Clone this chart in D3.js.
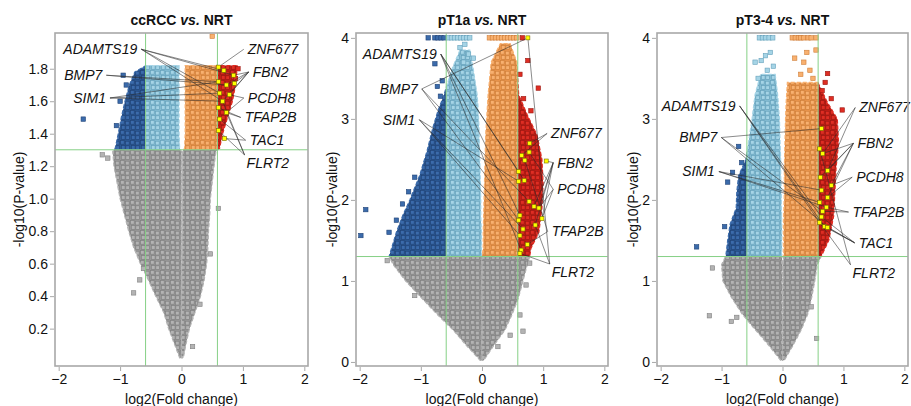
<!DOCTYPE html>
<html>
<head>
<meta charset="utf-8">
<script src="https://cdn.jsdelivr.net/npm/d3@7/dist/d3.min.js"></script>
<style>
  body { margin: 0; background: #fff; }
  svg { font-family: "Liberation Sans", Arial, sans-serif; }
</style>
</head>
<body>
<div id="chart"></div>
<script>
// Achsen
const xTicks = [-2, -1, 0, 1, 2];
const yTicksCcrcc = [0.2, 0.4, 0.6, 0.8, 1.0, 1.2, 1.4, 1.6, 1.8];
const yTicksStage = [0, 1, 2, 3, 4];
const titles = ["ccRCC", "pT1a", "pT3-4"];
const fcCut = 0.585;   // log2(1.5)
const pCut = 1.301;    // -log10(0.05)

// Punktwolken: [y, aussen links, innen links] bzw. [y, innen rechts, aussen rechts]
const ccrccLeft = [
  [1.82, -0.58, -0.04], [1.78, -0.76, -0.04], [1.70, -0.85, -0.04], [1.60, -0.92, -0.04],
  [1.50, -0.98, -0.04], [1.40, -1.03, -0.04], [1.31, -1.08, -0.03], [1.29, -1.12, 0],
  [1.20, -1.10, 0], [1.10, -1.05, 0], [1.00, -1.00, 0], [0.90, -0.93, 0],
  [0.80, -0.86, 0], [0.70, -0.78, 0], [0.60, -0.67, 0], [0.50, -0.54, 0],
  [0.40, -0.42, 0], [0.30, -0.29, 0], [0.20, -0.21, 0], [0.10, -0.11, 0], [0.02, -0.03, 0]
];
const ccrccRight = [
  [1.82, 0.06, 0.91], [1.70, 0.06, 0.88], [1.60, 0.06, 0.83], [1.50, 0.06, 0.75],
  [1.40, 0.06, 0.67], [1.31, 0.05, 0.62], [1.29, 0.012, 0.56], [1.20, 0.012, 0.53],
  [1.10, 0.012, 0.50], [1.00, 0.012, 0.47], [0.90, 0.012, 0.46], [0.80, 0.012, 0.44],
  [0.70, 0.01, 0.43], [0.60, 0.008, 0.41], [0.50, 0.006, 0.37], [0.40, 0.004, 0.31],
  [0.30, 0, 0.22], [0.20, 0, 0.13], [0.10, 0, 0.07], [0.02, 0, 0.03]
];
const ccrccSparse = [
  [0.50, 2.00], [-1.60, 1.49], [-0.95, 1.76], [-0.90, 1.70], [-1.00, 1.60], [-1.06, 1.45],
  [0.60, 0.94], [-0.78, 0.42], [-0.68, 0.50], [-0.62, 0.57], [0.18, 0.09], [0.30, 0.35],
  [-1.29, 1.27], [-1.20, 1.25], [0.47, 0.66], [0.92, 1.80], [0.88, 1.74]
];
const ccrccLinks = [
  ["ADAMTS19", 0.69, 1.79], ["ADAMTS19", 0.67, 1.60], ["ADAMTS19", 0.85, 1.76], ["ADAMTS19", 0.62, 1.65],
  ["BMP7", 0.60, 1.72], ["BMP7", 0.73, 1.70],
  ["SIM1", 0.62, 1.65], ["SIM1", 0.60, 1.72], ["SIM1", 0.67, 1.60],
  ["ZNF677", 0.60, 1.81],
  ["FBN2", 0.85, 1.76], ["FBN2", 0.73, 1.70], ["FBN2", 0.86, 1.71], ["FBN2", 0.78, 1.64], ["FBN2", 0.67, 1.60],
  ["PCDH8", 0.78, 1.64], ["PCDH8", 0.73, 1.53],
  ["TFAP2B", 0.60, 1.56], ["TFAP2B", 0.73, 1.53],
  ["TAC1", 0.62, 1.49], ["TAC1", 0.70, 1.37],
  ["FLRT2", 0.60, 1.42], ["FLRT2", 0.73, 1.53], ["FLRT2", 0.67, 1.60]
];
const ccrccLabels = [
  ["ADAMTS19", -0.72, 1.92, "L"], ["BMP7", -1.29, 1.76, "L"], ["SIM1", -1.23, 1.62, "L"],
  ["ZNF677", 1.08, 1.92, "R"], ["FBN2", 1.16, 1.78, "R"], ["PCDH8", 1.08, 1.62, "R"],
  ["TFAP2B", 1.03, 1.50, "R"], ["TAC1", 1.11, 1.36, "R"], ["FLRT2", 1.06, 1.22, "T"]
];

const pt1aLeft = [
  [3.85, -0.36, -0.20], [3.60, -0.50, -0.14], [3.30, -0.62, -0.08], [3.10, -0.72, -0.06],
  [2.90, -0.80, -0.05], [2.60, -0.90, -0.04], [2.30, -1.02, -0.03], [2.00, -1.18, -0.02],
  [1.80, -1.30, -0.02], [1.60, -1.40, -0.01], [1.40, -1.48, -0.01], [1.30, -1.52, 0],
  [1.20, -1.45, 0], [1.00, -1.25, 0], [0.80, -1.00, 0], [0.60, -0.75, 0],
  [0.40, -0.48, 0], [0.20, -0.25, 0], [0.02, -0.03, 0]
];
const pt1aRight = [
  [3.93, 0.30, 0.46], [3.70, 0.15, 0.57], [3.30, 0.10, 0.60], [3.05, 0.08, 0.74],
  [2.80, 0.06, 0.90], [2.50, 0.05, 0.98], [2.20, 0.04, 1.00], [1.90, 0.03, 0.98],
  [1.60, 0.02, 0.93], [1.40, 0.02, 0.80], [1.30, 0, 0.78], [1.20, 0, 0.74],
  [1.00, 0, 0.67], [0.80, 0, 0.60], [0.60, 0, 0.50], [0.40, 0, 0.38],
  [0.20, 0, 0.19], [0.02, 0, 0.03]
];
const pt1aSparse = [
  [-0.88, 4.0], [-0.77, 4.0], [-0.72, 4.0], [-0.67, 4.0], [-0.62, 4.0], [-0.55, 4.0], [-0.50, 4.0],
  [-0.45, 4.0], [-0.40, 4.0], [-0.35, 4.0], [-0.30, 4.0], [-0.25, 4.0], [-0.20, 4.0],
  [0.12, 4.0], [0.17, 4.0], [0.22, 4.0], [0.27, 4.0], [0.32, 4.0], [0.37, 4.0], [0.42, 4.0],
  [0.47, 4.0], [0.52, 4.0], [0.57, 4.0], [0.66, 4.0],
  [-0.36, 3.88], [-0.28, 3.92], [-0.22, 3.80], [-0.14, 3.75], [-0.30, 3.70],
  [-0.77, 3.68], [-0.65, 3.47], [-0.73, 3.40], [-0.68, 3.28], [-1.10, 2.28], [-1.90, 1.88],
  [-1.98, 1.56], [-1.52, 1.60], [-1.30, 1.95], [-1.20, 2.10], [-1.40, 1.75],
  [0.75, 3.72], [0.92, 3.38], [0.62, 3.55], [0.80, 3.10], [0.68, 3.25],
  [0.62, 0.58], [0.67, 0.38], [0.46, 0.33], [0.26, 0.19], [-1.10, 0.82], [-1.55, 1.25],
  [0.72, 0.95], [0.78, 1.22]
];
const pt1aLinks = [
  ["ADAMTS19", 0.60, 2.35], ["ADAMTS19", 0.69, 2.24], ["ADAMTS19", 0.62, 1.81], ["ADAMTS19", 0.64, 1.38],
  ["BMP7", 0.75, 4.00], ["BMP7", 0.60, 1.75], ["BMP7", 0.77, 1.98],
  ["SIM1", 0.62, 1.56], ["SIM1", 0.67, 1.64], ["SIM1", 0.60, 2.23],
  ["ZNF677", 0.78, 2.70], ["ZNF677", 0.65, 2.55],
  ["FBN2", 1.05, 2.48], ["FBN2", 0.85, 1.92], ["FBN2", 0.93, 1.90], ["FBN2", 0.98, 1.77], ["FBN2", 0.87, 1.69],
  ["PCDH8", 0.98, 1.77], ["PCDH8", 0.93, 1.90], ["PCDH8", 0.77, 2.59],
  ["TFAP2B", 0.74, 1.45], ["TFAP2B", 0.70, 2.49],
  ["FLRT2", 0.75, 4.00], ["FLRT2", 0.62, 1.34], ["FLRT2", 0.87, 1.69]
];
const pt1aLabels = [
  ["ADAMTS19", -0.74, 3.80, "L"], ["BMP7", -1.05, 3.37, "L"], ["SIM1", -1.09, 2.99, "L"],
  ["ZNF677", 1.13, 2.82, "R"], ["FBN2", 1.23, 2.46, "R"], ["PCDH8", 1.23, 2.13, "R"],
  ["TFAP2B", 1.14, 1.61, "R"], ["FLRT2", 1.14, 1.11, "T"]
];

const pt34Left = [
  [3.55, -0.36, -0.12], [3.30, -0.45, -0.08], [3.00, -0.50, -0.05], [2.70, -0.56, -0.04],
  [2.50, -0.60, -0.03], [2.30, -0.72, -0.03], [2.10, -0.75, -0.02], [1.90, -0.76, -0.02],
  [1.70, -0.86, -0.01], [1.50, -0.90, -0.01], [1.31, -0.93, -0.01], [1.20, -1.00, 0],
  [1.00, -0.98, 0], [0.80, -0.84, 0], [0.60, -0.67, 0], [0.40, -0.45, 0],
  [0.20, -0.22, 0], [0.02, -0.03, 0]
];
const pt34Right = [
  [3.45, 0.08, 0.58], [3.20, 0.06, 0.74], [3.00, 0.05, 0.90], [2.70, 0.04, 0.92],
  [2.40, 0.03, 0.88], [2.10, 0.03, 0.86], [1.80, 0.02, 0.84], [1.50, 0.02, 0.76],
  [1.31, 0.02, 0.64], [1.20, 0.008, 0.57], [1.00, 0.008, 0.53], [0.80, 0.006, 0.48],
  [0.60, 0.005, 0.42], [0.40, 0, 0.31], [0.20, 0, 0.17], [0.02, 0, 0.03]
];
const pt34Sparse = [
  [-0.38, 4.0], [-0.33, 4.0], [-0.28, 4.0], [-0.22, 4.0], [-0.16, 4.0],
  [-0.45, 3.70], [-0.35, 3.72], [-0.28, 3.78], [-0.20, 3.82], [-0.15, 3.65], [-0.25, 3.60], [-0.40, 3.50],
  [0.16, 4.0], [0.21, 4.0], [0.26, 4.0], [0.30, 4.0], [0.35, 4.0], [0.42, 4.0], [0.47, 4.0], [0.55, 4.0],
  [0.20, 3.75], [0.35, 3.70], [0.45, 3.60], [0.50, 3.50], [0.30, 3.55], [0.55, 3.85], [0.40, 3.82],
  [0.74, 3.56], [0.70, 3.45], [0.98, 3.11], [0.65, 3.35], [0.80, 3.25],
  [-0.72, 2.66], [-0.67, 2.46], [-0.82, 2.34], [-1.41, 1.42], [-0.95, 1.67], [-0.90, 2.22],
  [-1.15, 1.16], [-1.20, 0.57], [-0.84, 0.50], [-0.75, 0.55], [0.56, 0.29], [0.47, 0.68]
];
const pt34Links = [
  ["ADAMTS19", 0.64, 1.79], ["ADAMTS19", 0.61, 1.72], ["ADAMTS19", 0.69, 1.67],
  ["BMP7", 0.66, 1.86], ["BMP7", 0.74, 1.66], ["BMP7", 0.64, 2.88],
  ["SIM1", 0.61, 1.97], ["SIM1", 0.72, 1.91], ["SIM1", 0.64, 2.12],
  ["ZNF677", 0.74, 2.36], ["ZNF677", 0.66, 2.57],
  ["FBN2", 0.74, 2.36], ["FBN2", 0.62, 2.28], ["FBN2", 0.80, 2.18], ["FBN2", 0.74, 2.03], ["FBN2", 0.66, 2.57],
  ["PCDH8", 0.80, 2.18], ["PCDH8", 0.74, 2.03],
  ["TFAP2B", 0.72, 1.91], ["TFAP2B", 0.66, 1.86],
  ["TAC1", 0.61, 1.72], ["TAC1", 0.69, 1.67], ["TAC1", 0.74, 1.66], ["TAC1", 0.64, 1.79],
  ["FLRT2", 0.61, 2.63], ["FLRT2", 0.61, 1.72]
];
const pt34Labels = [
  ["ADAMTS19", -0.77, 3.16, "L"], ["BMP7", -1.07, 2.77, "L"], ["SIM1", -1.11, 2.35, "L"],
  ["ZNF677", 1.26, 3.14, "R"], ["FBN2", 1.23, 2.70, "R"], ["PCDH8", 1.21, 2.28, "R"],
  ["TFAP2B", 1.15, 1.85, "R"], ["TAC1", 1.25, 1.47, "R"], ["FLRT2", 1.15, 1.10, "T"]
];

// Layout (Pixel) getrennt von den Daten
const frames = [
  { left: 55, right: 308, top: 33, bottom: 366, yDomain: [-0.03, 2.02], yTicks: yTicksCcrcc, fmt: d3.format(".1f"), yLabelOff: 36 },
  { left: 356, right: 608, top: 33, bottom: 366, yDomain: [-0.05, 4.06], yTicks: yTicksStage, fmt: d3.format("d"), yLabelOff: 24 },
  { left: 657, right: 908, top: 33, bottom: 366, yDomain: [-0.05, 4.06], yTicks: yTicksStage, fmt: d3.format("d"), yLabelOff: 24 }
];
const panelData = [
  { left: ccrccLeft, right: ccrccRight, sparse: ccrccSparse, links: ccrccLinks, labels: ccrccLabels },
  { left: pt1aLeft, right: pt1aRight, sparse: pt1aSparse, links: pt1aLinks, labels: pt1aLabels },
  { left: pt34Left, right: pt34Right, sparse: pt34Sparse, links: pt34Links, labels: pt34Labels }
];

const palette = {
  grey:   { bg: "#999999", fill: "#b3b3b3", stroke: "#808080" },
  dblue:  { bg: "#2a5893", fill: "#3b6bab", stroke: "#1f4276" },
  lblue:  { bg: "#86bfd5", fill: "#a5d4e6", stroke: "#65a1bb" },
  orange: { bg: "#ec964d", fill: "#f8b06f", stroke: "#cf7e38" },
  red:    { bg: "#c41d15", fill: "#df2d23", stroke: "#9a160f" }
};

function regionOf(x, y) {
  if (y < pCut) return "grey";
  if (x < -fcCut) return "dblue";
  if (x < 0) return "lblue";
  if (x < fcCut) return "orange";
  return "red";
}

const W = 911, H = 406;
const svg = d3.select("#chart").append("svg")
  .attr("width", W).attr("height", H)
  .attr("viewBox", `0 0 ${W} ${H}`);

const defs = svg.append("defs");
// Musterfüllung für dichte Punktwolken
Object.entries(palette).forEach(([k, c]) => {
  const p = defs.append("pattern")
    .attr("id", "pat-" + k)
    .attr("patternUnits", "userSpaceOnUse")
    .attr("width", 10).attr("height", 10);
  p.append("rect").attr("width", 10).attr("height", 10).attr("fill", c.bg);
  [[0.4, 0.4], [5.4, 1.2], [1.3, 5.5], [5.8, 5.8]].forEach(([a, b]) => {
    p.append("rect")
      .attr("x", a).attr("y", b).attr("width", 3.8).attr("height", 3.8)
      .attr("fill", c.fill).attr("stroke", c.stroke).attr("stroke-width", 0.7);
  });
});

frames.forEach((f, i) => {
  const data = panelData[i];
  const x = d3.scaleLinear().domain([-2.06, 2.06]).range([f.left, f.right]);
  const y = d3.scaleLinear().domain(f.yDomain).range([f.bottom, f.top]);
  const g = svg.append("g");

  // Regionen als Clip-Rechtecke
  const regions = {
    grey: [x.domain()[0], x.domain()[1], f.yDomain[0], pCut],
    dblue: [x.domain()[0], -fcCut, pCut, f.yDomain[1]],
    lblue: [-fcCut, 0, pCut, f.yDomain[1]],
    orange: [0, fcCut, pCut, f.yDomain[1]],
    red: [fcCut, x.domain()[1], pCut, f.yDomain[1]]
  };
  Object.entries(regions).forEach(([k, r]) => {
    defs.append("clipPath").attr("id", `clip-${i}-${k}`)
      .append("rect")
      .attr("x", x(r[0])).attr("y", y(r[3]))
      .attr("width", x(r[1]) - x(r[0]))
      .attr("height", y(r[2]) - y(r[3]));
  });

  const area = d3.area()
    .y(d => y(d[0]))
    .x0(d => x(d[1]))
    .x1(d => x(d[2]));

  Object.keys(regions).forEach(k => {
    const cg = g.append("g").attr("clip-path", `url(#clip-${i}-${k})`);
    [data.left, data.right].forEach(lobe => {
      cg.append("path")
        .attr("d", area(lobe))
        .attr("fill", `url(#pat-${k})`)
        .attr("stroke", palette[k].fill)
        .attr("stroke-width", 1.2)
        .attr("stroke-dasharray", "4 2");
    });
  });

  // einzelne Punkte
  g.selectAll(".sp")
    .data(data.sparse)
    .enter().append("rect")
    .attr("x", d => x(d[0]) - 2.2)
    .attr("y", d => y(d[1]) - 2.2)
    .attr("width", 4.4).attr("height", 4.4)
    .attr("fill", d => palette[regionOf(d[0], d[1])].fill)
    .attr("stroke", d => palette[regionOf(d[0], d[1])].stroke)
    .attr("stroke-width", 0.6);

  // Schwellenlinien
  g.append("line")
    .attr("x1", x(-fcCut)).attr("x2", x(-fcCut)).attr("y1", f.top).attr("y2", f.bottom)
    .attr("stroke", "#86d086").attr("stroke-width", 1);
  g.append("line")
    .attr("x1", x(fcCut)).attr("x2", x(fcCut)).attr("y1", f.top).attr("y2", f.bottom)
    .attr("stroke", "#86d086").attr("stroke-width", 1);
  g.append("line")
    .attr("x1", f.left).attr("x2", f.right).attr("y1", y(pCut)).attr("y2", y(pCut))
    .attr("stroke", "#86d086").attr("stroke-width", 1);

  // Beschriftung: Linien zu markierten Genen
  const labelMap = {};
  data.labels.forEach(l => { labelMap[l[0]] = l; });
  const startOf = l => {
    if (l[3] === "L") return [x(l[1]) + 4, y(l[2])];
    if (l[3] === "T") return [x(l[1]) - 2, y(l[2]) - 8];
    return [x(l[1]) - 4, y(l[2])];
  };
  g.selectAll(".lead")
    .data(data.links)
    .enter().append("line")
    .attr("x1", d => startOf(labelMap[d[0]])[0])
    .attr("y1", d => startOf(labelMap[d[0]])[1])
    .attr("x2", d => x(d[1]))
    .attr("y2", d => y(d[2]))
    .attr("stroke", "#2a2a2a")
    .attr("stroke-width", 0.55);

  // gelbe Punkte
  const seen = new Set();
  const yellow = data.links.filter(d => {
    const key = d[1] + "," + d[2];
    if (seen.has(key)) return false;
    seen.add(key);
    return true;
  });
  g.selectAll(".yl")
    .data(yellow)
    .enter().append("rect")
    .attr("x", d => x(d[1]) - 2)
    .attr("y", d => y(d[2]) - 2)
    .attr("width", 4).attr("height", 4)
    .attr("fill", "#ffff00")
    .attr("stroke", "#7a6a00")
    .attr("stroke-width", 0.6);

  g.selectAll(".lab")
    .data(data.labels)
    .enter().append("text")
    .attr("x", d => x(d[1]))
    .attr("y", d => y(d[2]))
    .attr("dy", "0.35em")
    .attr("text-anchor", d => d[3] === "L" ? "end" : "start")
    .attr("font-size", 14)
    .attr("font-style", "italic")
    .attr("fill", "#111")
    .text(d => d[0]);

  // Rahmen
  g.append("rect")
    .attr("x", f.left).attr("y", f.top)
    .attr("width", f.right - f.left).attr("height", f.bottom - f.top)
    .attr("fill", "none").attr("stroke", "#a8a8a8").attr("stroke-width", 1.6);

  // Achsen
  const xAxis = g.append("g")
    .attr("transform", `translate(0,${f.bottom + 1})`)
    .call(d3.axisBottom(x).tickValues(xTicks).tickSize(4).tickPadding(3).tickFormat(d3.format("d")));
  const yAxis = g.append("g")
    .attr("transform", `translate(${f.left - 1},0)`)
    .call(d3.axisLeft(y).tickValues(f.yTicks).tickSize(4).tickPadding(2).tickFormat(f.fmt));
  [xAxis, yAxis].forEach(a => {
    a.select(".domain").remove();
    a.selectAll(".tick line").attr("stroke", "#a8a8a8");
    a.selectAll(".tick text")
      .attr("font-size", 14)
      .attr("font-family", "Liberation Sans, Arial, sans-serif")
      .attr("fill", "#111");
  });

  // Titel
  const t = g.append("text")
    .attr("x", (f.left + f.right) / 2)
    .attr("y", 25)
    .attr("text-anchor", "middle")
    .attr("font-size", 14)
    .attr("font-weight", "bold")
    .attr("fill", "#111");
  t.append("tspan").text(titles[i] + " ");
  t.append("tspan").attr("font-style", "italic").text("vs.");
  t.append("tspan").text(" NRT");

  g.append("text")
    .attr("x", (f.left + f.right) / 2)
    .attr("y", 404)
    .attr("text-anchor", "middle")
    .attr("font-size", 14)
    .attr("fill", "#111")
    .text("log2(Fold change)");

  g.append("text")
    .attr("transform", `translate(${f.left - f.yLabelOff},${(f.top + f.bottom) / 2}) rotate(-90)`)
    .attr("text-anchor", "middle")
    .attr("dy", "0.35em")
    .attr("font-size", 14)
    .attr("fill", "#111")
    .text("-log10(P-value)");
});
</script>
</body>
</html>
